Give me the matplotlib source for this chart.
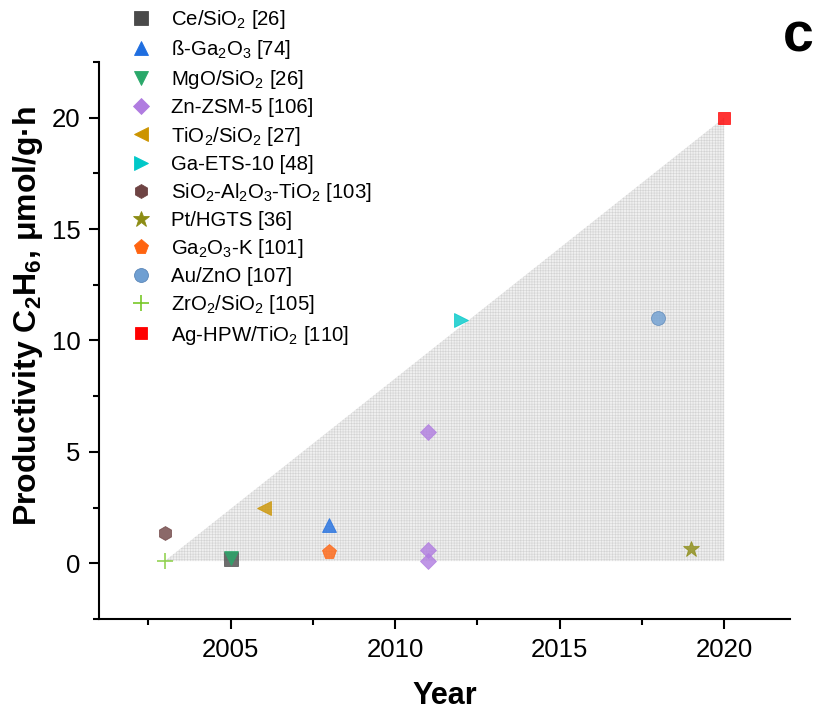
import matplotlib
matplotlib.use("Agg")
import matplotlib.pyplot as plt
from matplotlib.ticker import MultipleLocator

plt.rcParams['font.family'] = ['Liberation Sans', 'DejaVu Sans']
plt.rcParams['mathtext.fontset'] = 'custom'
plt.rcParams['mathtext.rm'] = 'Liberation Sans'
plt.rcParams['mathtext.it'] = 'Liberation Sans:italic'
plt.rcParams['mathtext.bf'] = 'Liberation Sans:bold'
plt.rcParams['hatch.linewidth'] = 0.4

# ---------------- data ----------------
labels = [
    "Ce/SiO$_2$ [26]",
    "ß-Ga$_2$O$_3$ [74]",
    "MgO/SiO$_2$ [26]",
    "Zn-ZSM-5 [106]",
    "TiO$_2$/SiO$_2$ [27]",
    "Ga-ETS-10 [48]",
    "SiO$_2$-Al$_2$O$_3$-TiO$_2$ [103]",
    "Pt/HGTS [36]",
    "Ga$_2$O$_3$-K [101]",
    "Au/ZnO [107]",
    "ZrO$_2$/SiO$_2$ [105]",
    "Ag-HPW/TiO$_2$ [110]",
]
years = [
    [2005],
    [2008],
    [2005],
    [2011, 2011, 2011],
    [2006],
    [2012],
    [2003],
    [2019],
    [2008],
    [2018],
    [2003],
    [2020],
]
productivity = [
    [0.2],
    [1.72],
    [0.25],
    [5.88, 0.58, 0.12],
    [2.5],
    [10.9],
    [1.35],
    [0.62],
    [0.5],
    [11.0],
    [0.1],
    [20.0],
]
region_x = [2003, 2020, 2020]
region_y = [0.1, 20.0, 0.1]

# ---------------- styles ----------------
markers = ['s', '^', 'v', 'D', '<', '>', 'h', '*', 'p', 'o', '+', 's']
colors = ['#4a4a4a', '#1f6ee0', '#2aa86a', '#b07ce0', '#cc9400', '#00c8c8',
          '#6e4343', '#8c8c14', '#ff6410', '#6f9fd2', '#78c828', '#ff0000']
sizes = [10, 10.5, 10.5, 8, 10.5, 10.5, 10, 12, 11, 10, 11, 9]

fig = plt.figure(figsize=(8.15, 7.11), dpi=100)
ax = fig.add_axes([99/815, 1-619/711, (790-99)/815, (619-62)/711])

ax.fill(region_x, region_y, facecolor='#efefef', edgecolor='#d3d3d3',
        hatch='++++++', linewidth=0, zorder=1)

handles = []
for lab, xs, ys, m, c, s in zip(labels, years, productivity, markers, colors, sizes):
    kw = dict(linestyle='none', marker=m, markersize=s, color=c, zorder=3)
    if m == '+':
        kw.update(markeredgewidth=1.2)
    else:
        kw.update(markeredgewidth=0.6, markeredgecolor=c)
    if m == 'o':
        kw.update(markeredgecolor='#5a86b8')
    h, = ax.plot(xs, ys, alpha=0.8, label=lab, **kw)
    handles.append(h)

ax.set_xlim(2001, 2022)
ax.set_ylim(-2.5, 22.5)
ax.xaxis.set_major_locator(MultipleLocator(5))
ax.xaxis.set_minor_locator(MultipleLocator(2.5))
ax.yaxis.set_major_locator(MultipleLocator(5))
ax.yaxis.set_minor_locator(MultipleLocator(2.5))

for sp in ['top', 'right']:
    ax.spines[sp].set_visible(False)
for sp in ['left', 'bottom']:
    ax.spines[sp].set_linewidth(1.5)

ax.tick_params(axis='both', which='major', direction='out', length=7.5,
               width=1.5, labelsize=18.5, pad=6)
ax.tick_params(axis='both', which='minor', direction='out', length=4,
               width=1.5)

ax.set_xlabel("Year", fontsize=22, fontweight='bold', labelpad=14)
ax.set_ylabel("Productivity C$_\\mathbf{2}$H$_\\mathbf{6}$, μmol/g·h",
              fontsize=23, fontweight='bold')
ax.yaxis.set_label_coords(-0.078, 0.545)

leg = fig.legend(handles=handles, loc='upper left',
                 bbox_to_anchor=(131/815, 1-8/711), frameon=False,
                 fontsize=14.7, handlelength=1.0, handletextpad=0.95,
                 labelspacing=0.35, borderpad=0, borderaxespad=0,
                 numpoints=1)
for lh in leg.legend_handles:
    lh.set_alpha(1)

fig.text(783/815, 1-37/711, "c", fontsize=40, fontweight='bold',
         ha='left', va='center')

fig.savefig("out.png", dpi=100)
